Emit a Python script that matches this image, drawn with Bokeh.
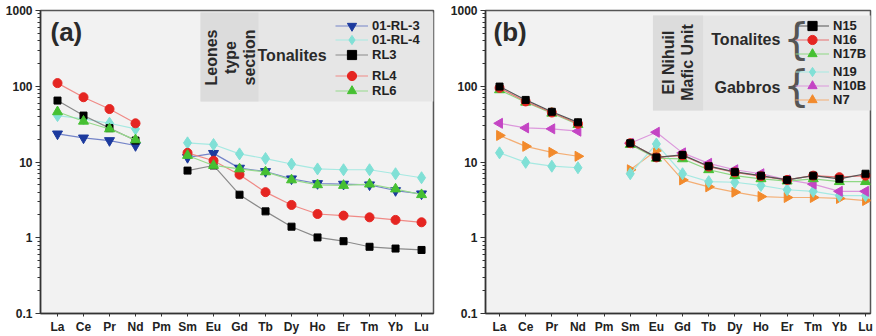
import numpy as np
from bokeh.plotting import figure
from bokeh.layouts import row
from bokeh.models import (Range1d, FixedTicker, CustomJSTickFormatter, Legend,
                          LegendItem, Label, BoxAnnotation)
from bokeh.embed import file_html
from bokeh.resources import INLINE

nan = float("nan")
elements = ["La", "Ce", "Pr", "Nd", "Pm", "Sm", "Eu", "Gd", "Tb", "Dy", "Ho", "Er", "Tm", "Yb", "Lu"]
y_ticks = [0.1, 1, 10, 100, 1000]

# Panel (a): Leones type section, tonalites
rl01_3 = [23.5, 20.8, 19.2, 16.5, nan, 11.5, 13.0, 8.3, 7.5, 6.0, 5.2, 5.1, 5.0, 4.2, 3.8]
rl01_4 = [41.0, 37.0, 32.5, 27.3, nan, 17.9, 17.0, 12.8, 11.1, 9.4, 8.1, 7.9, 7.9, 7.0, 6.2]
rl3 = [64.7, 41.0, 28.0, 19.2, nan, 7.7, 9.0, 3.7, 2.23, 1.40, 1.01, 0.90, 0.76, 0.72, 0.69]
rl4 = [110.0, 71.6, 50.0, 32.4, nan, 13.2, 10.4, 6.8, 4.0, 2.71, 2.06, 1.96, 1.86, 1.72, 1.60]
rl6 = [46.0, 34.5, 27.3, 19.6, nan, 12.2, 9.0, 8.1, 7.4, 5.8, 5.0, 4.9, 5.1, 4.4, 3.7]

# Panel (b): El Nihuil Mafic Unit
n15 = [99.0, 66.0, 46.0, 33.4, nan, 17.7, 11.5, 12.4, 8.8, 7.4, 6.6, 5.8, 6.6, 6.0, 7.0]
n16 = [95.0, 63.0, 45.0, 32.0, nan, 17.7, 11.5, 12.2, 8.7, 7.3, 6.5, 5.8, 6.6, 6.3, 6.6]
n17b = [89.6, 61.5, 44.0, 31.2, nan, 17.0, 11.2, 11.0, 7.9, 6.6, 6.0, 5.6, 6.0, 5.5, 5.5]
n19 = [13.2, 9.9, 8.8, 8.4, nan, 7.0, 17.3, 7.0, 5.5, 5.4, 4.9, 4.3, 4.1, 3.6, 3.6]
n10b = [32.4, 28.2, 27.4, 25.5, nan, 17.7, 24.7, 13.2, 9.6, 7.9, 7.0, 5.8, 5.1, 4.1, 4.1]
n7 = [22.4, 16.1, 13.4, 11.9, nan, 7.9, 14.2, 5.8, 4.7, 4.0, 3.5, 3.4, 3.4, 3.3, 3.1]

x = list(range(len(elements)))
FONT = "Liberation Sans"
minor = [m * 10.0 ** e for e in range(-1, 3) for m in range(2, 10)]
FRAME_BOTTOM = 313


def make_fig(width, left, right, xstart, xend):
    p = figure(width=width, height=336, output_backend="svg", toolbar_location=None,
               y_axis_type="log", x_range=Range1d(xstart, xend), y_range=Range1d(0.1, 1000),
               min_border_left=left, min_border_right=right, min_border_top=10,
               min_border_bottom=23)
    p.background_fill_color = "#f2f2f2"
    p.border_fill_color = "white"
    p.outline_line_color = "#555555"
    p.outline_line_width = 1.5
    p.grid.visible = False
    p.yaxis.ticker = FixedTicker(ticks=y_ticks, minor_ticks=minor)
    p.yaxis.formatter = CustomJSTickFormatter(code="return String(parseFloat(tick.toPrecision(3)));")
    p.xaxis.ticker = FixedTicker(ticks=x)
    p.xaxis.major_label_overrides = {i: e for i, e in enumerate(elements)}
    for ax in (p.xaxis, p.yaxis):
        ax.axis_line_color = "#333333"
        ax.axis_line_width = 1.5
        ax.major_tick_line_color = "#333333"
        ax.major_tick_in = 0
        ax.minor_tick_in = 0
        ax.major_label_text_font = FONT
        ax.major_label_text_font_style = "bold"
        ax.major_label_text_font_size = "12px"
        ax.major_label_text_color = "#222222"
        ax.major_label_standoff = 3
    p.yaxis.major_tick_out = 5
    p.yaxis.minor_tick_out = 3
    p.yaxis.minor_tick_line_color = "#333333"
    p.xaxis.major_tick_out = 3
    p.xaxis.minor_tick_line_color = None
    return p


def series(p, ys, marker, color, line_color, size, angle=0.0, lw=1.2):
    ln = p.line(x, ys, line_color=line_color, line_width=lw)
    sc = p.scatter(x, ys, marker=marker, size=size, fill_color=color, line_color=color, angle=angle)
    return [ln, sc]


def legend_entry(p, text, renderers, sx, cy, gw, frame_left, gh=23):
    # one legend per entry so each row sits where the reference puts it
    leg = Legend(items=[LegendItem(label=text, renderers=renderers)],
                 location=(sx - frame_left, FRAME_BOTTOM - cy - gh / 2.0),
                 orientation="vertical", glyph_width=gw, glyph_height=gh, label_height=gh,
                 spacing=0, padding=0, margin=0, label_standoff=4,
                 label_text_font=FONT, label_text_font_style="bold", label_text_font_size="13px",
                 label_text_color="#222222", background_fill_alpha=0, border_line_alpha=0)
    p.add_layout(leg)


def yv(py):
    return 10 ** (3 - (py - 10) / 75.75)


def label(p, xv, yval, text, size="16px", align="left", angle=0.0, style="bold", color="#2a2a2a",
          font=FONT):
    p.add_layout(Label(x=xv, y=yval, text=text, text_font=font, text_font_style=style,
                       text_font_size=size, text_align=align, text_baseline="middle",
                       angle=angle, text_color=color))


# ---------------- Panel (a)
a0, a1 = -0.654, 14.46
pa = make_fig(438, 40, 5, a0, a1)
xa = lambda px: a0 + (px - 40) / 26.0

pa.add_layout(BoxAnnotation(left=xa(200), right=xa(433), top=yv(12), bottom=yv(101),
                            fill_color="#e6e6e6", fill_alpha=1, line_color=None, level="underlay"))
pa.add_layout(BoxAnnotation(left=xa(200), right=xa(258), top=yv(12), bottom=yv(101),
                            fill_color="#dcdcdc", fill_alpha=1, line_color=None, level="underlay"))

r_a1 = series(pa, rl01_3, "inverted_triangle", "#1c3a9e", "#7484c8", 10)
r_a2 = series(pa, rl01_4, "diamond", "#80e0d6", "#a6e9e2", 12)
r_a3 = series(pa, rl3, "square", "#000000", "#8a8a8a", 7)
r_a4 = series(pa, rl4, "circle", "#e52521", "#f08a86", 9)
r_a5 = series(pa, rl6, "triangle", "#46c032", "#96da8c", 10)

for text, rr, cy in [("01-RL-3", r_a1, 25), ("01-RL-4", r_a2, 39), ("RL3", r_a3, 54),
                     ("RL4", r_a4, 75), ("RL6", r_a5, 90)]:
    legend_entry(pa, text, rr, 335, cy, 33, 40)

label(pa, xa(50), yv(31), "(a)", size="26px")
label(pa, xa(211), yv(57), "Leones", angle=np.pi / 2, align="center")
label(pa, xa(230), yv(57), "type", angle=np.pi / 2, align="center")
label(pa, xa(249), yv(57), "section", angle=np.pi / 2, align="center")
label(pa, xa(257), yv(55), "Tonalites")

# ---------------- Panel (b)
b0, b1 = -0.537, 14.19
pb = make_fig(438, 47, 6, b0, b1)
xb = lambda px: b0 + (px - 485) / 26.07

pb.add_layout(BoxAnnotation(left=xb(652), right=xb(870), top=yv(15), bottom=yv(110),
                            fill_color="#e6e6e6", fill_alpha=1, line_color=None, level="underlay"))
pb.add_layout(BoxAnnotation(left=xb(652), right=xb(702), top=yv(15), bottom=yv(110),
                            fill_color="#dcdcdc", fill_alpha=1, line_color=None, level="underlay"))

r_b6 = series(pb, n7, "triangle", "#f28a2c", "#f4ae74", 10, angle=-np.pi / 2)
r_b4 = series(pb, n19, "diamond", "#80e0d6", "#a6e9e2", 12)
r_b5 = series(pb, n10b, "triangle", "#c445c4", "#dc98dc", 10, angle=np.pi / 2)
r_b3 = series(pb, n17b, "triangle", "#46c032", "#8ed884", 10)
r_b2 = series(pb, n16, "circle", "#e52521", "#e87070", 9)
r_b1 = series(pb, n15, "square", "#000000", "#555555", 7)

for text, rr, cy in [("N15", r_b1, 25), ("N16", r_b2, 39), ("N17B", r_b3, 53),
                     ("N19", r_b4, 71), ("N10B", r_b5, 85), ("N7", r_b6, 99)]:
    legend_entry(pb, text, rr, 795, cy, 34, 485)

label(pb, xb(493), yv(31), "(b)", size="26px")
label(pb, xb(667), yv(62), "El Nihuil", angle=np.pi / 2, align="center")
label(pb, xb(686), yv(62), "Mafic Unit", angle=np.pi / 2, align="center")
label(pb, xb(779), yv(39), "Tonalites", align="right")
label(pb, xb(779), yv(87), "Gabbros", align="right")
label(pb, xb(782), yv(39), "{", size="42px", style="normal", color="#555555", font="DejaVu Sans")
label(pb, xb(782), yv(86), "{", size="42px", style="normal", color="#555555", font="DejaVu Sans")

layout = row(pa, pb)
open("out.html", "w").write(file_html(layout, INLINE))
